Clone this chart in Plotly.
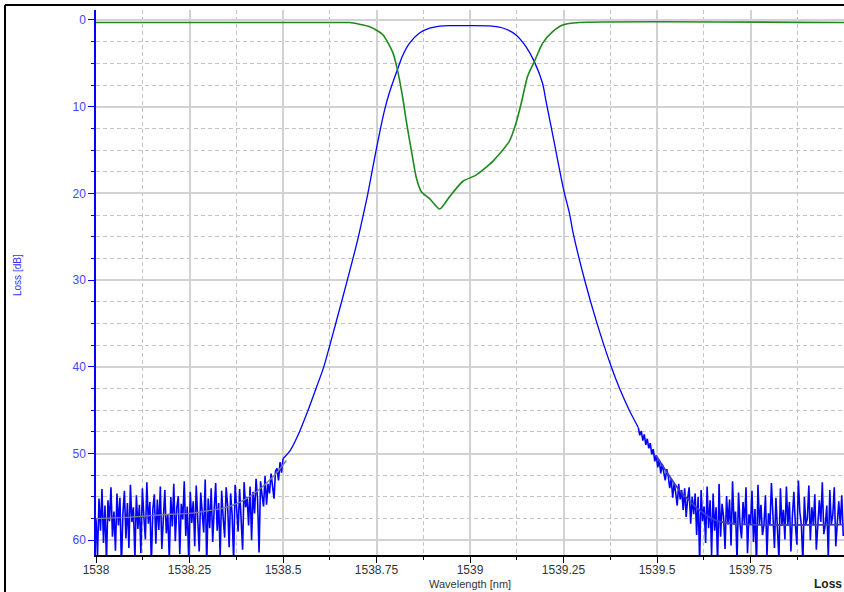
import plotly.graph_objects as go

# ---------------- data ----------------
# Blue trace: noisy floor on the left (sampled every 0.004 nm from 1538.000)
left_noise_start = 1538.0
left_noise_step = 0.004
left_noise_loss = [
    57.5, 61.8, 55.2, 58.9, 54.1, 60.3, 56.0, 62.5, 55.4, 57.8,
    53.9, 59.6, 56.7, 61.2, 54.6, 58.3, 55.1, 63.0, 56.9, 54.3,
    59.8, 55.7, 60.9, 53.6, 57.9, 56.2, 62.1, 54.8, 58.7, 55.9,
    61.5, 54.0, 57.3, 59.9, 53.3, 58.1, 55.6, 62.8, 56.4, 54.7,
    60.4, 55.3, 58.8, 53.8, 61.0, 56.6, 54.2, 59.2, 57.0, 62.3,
    55.0, 58.4, 53.5, 60.1, 56.3, 54.9, 61.6, 55.8, 57.6, 53.2,
    59.5, 56.1, 62.6, 54.4, 58.0, 55.5, 60.7, 53.7, 57.2, 61.3,
    54.5, 56.8, 59.1, 53.0, 62.9, 55.2, 58.6, 54.0, 60.2, 56.5,
    53.4, 58.9, 55.7, 61.9, 54.3, 57.4, 59.7, 53.9, 56.0, 60.8,
    54.6, 57.1, 62.4, 53.6, 55.8, 59.0, 54.1, 57.5, 61.1, 53.3,
    56.2, 55.0, 58.3, 53.8, 60.0, 54.4, 56.9, 52.9, 55.3, 61.4,
    53.2, 54.8, 56.1, 52.6, 55.9, 53.5, 54.6, 52.3, 53.8, 55.2,
    52.0, 51.7, 53.1, 51.0, 52.2, 50.6,
]

# Blue trace: smooth passband part
mid_wavelength = [
    1538.50, 1538.52, 1538.54, 1538.567, 1538.59, 1538.609, 1538.641, 1538.672, 1538.70,
    1538.711, 1538.727, 1538.749, 1538.772, 1538.785, 1538.807, 1538.82, 1538.838,
    1538.865, 1538.892, 1538.919, 1538.95, 1539.0, 1539.052, 1539.075, 1539.097,
    1539.123, 1539.15, 1539.172, 1539.194, 1539.203, 1539.226, 1539.25, 1539.266,
    1539.275, 1539.306, 1539.339, 1539.377, 1539.40, 1539.426, 1539.45,
]
mid_loss = [
    50.6, 49.6, 47.9, 45.0, 42.3, 40.0, 35.0, 30.0, 25.3,
    23.2, 20.0, 15.0, 10.3, 8.3, 5.6, 4.1, 2.7,
    1.5, 0.95, 0.7, 0.65, 0.65, 0.68, 0.8, 1.07,
    1.73, 3.1, 4.8, 7.3, 9.3, 14.3, 19.5, 22.3,
    24.4, 29.9, 34.9, 39.9, 42.5, 45.0, 47.0,
]

# Blue trace: noisy floor on the right (sampled every 0.004 nm from 1539.450)
right_noise_start = 1539.45
right_noise_step = 0.004
right_noise_loss = [
    47.0, 47.9, 47.4, 48.5, 47.8, 49.0, 48.3, 49.4, 48.8, 50.1,
    49.5, 50.9, 50.2, 51.6, 50.7, 52.3, 51.2, 52.0, 53.1, 51.8,
    52.6, 54.0, 52.9, 55.1, 53.4, 54.5, 56.0, 53.5, 55.3, 54.2,
    56.5, 54.0, 57.3, 55.2, 53.9, 58.1, 55.0, 57.0, 54.6, 59.4,
    55.0, 62.5, 54.2, 57.8, 56.1, 60.3, 53.8, 58.6, 55.4, 61.7,
    54.6, 58.9, 56.2, 62.8, 53.5, 59.6, 55.8, 57.3, 61.0, 54.9,
    58.2, 55.3, 60.6, 53.2, 58.2, 56.7, 62.4, 54.5, 58.2, 59.8,
    55.6, 58.2, 53.9, 61.5, 57.0, 58.2, 54.3, 60.2, 56.4, 62.9,
    53.6, 58.2, 55.9, 59.4, 58.2, 54.8, 61.8, 56.9, 58.2, 53.4,
    57.7, 60.9, 55.1, 58.2, 62.2, 54.0, 58.2, 56.5, 59.9, 53.8,
    58.2, 55.6, 61.3, 57.2, 54.4, 58.2, 60.5, 53.1, 56.8, 58.2,
    62.6, 55.0, 58.2, 57.5, 53.7, 60.0, 56.2, 58.2, 54.7, 61.1,
    58.2, 55.4, 57.9, 53.3, 59.3, 58.2, 56.0, 62.0, 54.2, 58.2,
    57.1, 53.9, 60.7, 58.2, 55.5, 58.2, 54.8, 59.5,
]

# Smoothed floor
floor_left_wavelength = [1538.0, 1538.1, 1538.2, 1538.25, 1538.3, 1538.34, 1538.385, 1538.429, 1538.473, 1538.509]
floor_left_loss = [57.5, 57.3, 57.0, 56.9, 56.6, 56.3, 55.6, 54.4, 52.7, 50.8]
floor_right_wavelength = [1539.497, 1539.53, 1539.559, 1539.59, 1539.613, 1539.657, 1539.70, 1539.75, 1540.0]
floor_right_loss = [50.2, 52.4, 54.2, 55.6, 56.5, 57.7, 58.05, 58.2, 58.2]

# Green trace (notch)
green_wavelength = [
    1538.0, 1538.66, 1538.678, 1538.732, 1538.767, 1538.794, 1538.807, 1538.821,
    1538.829, 1538.843, 1538.856, 1538.870, 1538.892, 1538.919, 1538.945, 1538.981,
    1539.016, 1539.061, 1539.105, 1539.123, 1539.137, 1539.154, 1539.172, 1539.194,
    1539.221, 1539.248, 1539.292, 1540.0,
]
green_loss = [
    0.3, 0.3, 0.3, 0.77, 1.7, 3.8, 5.96, 9.2,
    11.5, 15.0, 18.1, 19.8, 20.6, 21.8, 20.4, 18.6,
    17.9, 16.3, 14.0, 11.9, 9.6, 6.5, 4.8, 2.7,
    1.35, 0.58, 0.3, 0.3,
]

x_ticks = [1538, 1538.25, 1538.5, 1538.75, 1539, 1539.25, 1539.5, 1539.75]
x_tick_labels = ["1538", "1538.25", "1538.5", "1538.75", "1539", "1539.25", "1539.5", "1539.75"]
y_ticks = [0, 10, 20, 30, 40, 50, 60]
y_tick_labels = ["0", "10", "20", "30", "40", "50", "60"]

# ---------------- build ----------------
left_wl = [round(left_noise_start + i * left_noise_step, 4) for i in range(len(left_noise_loss))]
right_wl = [round(right_noise_start + i * right_noise_step, 4) for i in range(len(right_noise_loss))]

W, H = 844, 592
ML, MR, MT, MB = 96, 0, 10, 37
PW, PH = W - ML - MR, H - MT - MB

def px_x(px):
    return (px - ML) / PW

def px_y(py):
    return 1 - (py - MT) / PH

BLUE = "#0000ff"
fig = go.Figure()
fig.add_trace(go.Scatter(x=left_wl, y=left_noise_loss, mode="lines",
                         line=dict(color=BLUE, width=1.6), name="Loss"))
fig.add_trace(go.Scatter(x=mid_wavelength, y=mid_loss, mode="lines",
                         line=dict(color=BLUE, width=1.3, shape="spline", smoothing=0.8),
                         showlegend=False))
fig.add_trace(go.Scatter(x=right_wl, y=right_noise_loss, mode="lines",
                         line=dict(color=BLUE, width=1.6), showlegend=False))
fig.add_trace(go.Scatter(x=floor_left_wavelength, y=floor_left_loss, mode="lines",
                         line=dict(color="#7a7a9a", width=1.4, shape="spline"), showlegend=False))
fig.add_trace(go.Scatter(x=floor_right_wavelength, y=floor_right_loss, mode="lines",
                         line=dict(color="#3c3cc8", width=1.8, shape="spline"), showlegend=False))
fig.add_trace(go.Scatter(x=green_wavelength, y=green_loss, mode="lines",
                         line=dict(color="#1e8a1e", width=1.6, shape="spline", smoothing=0.6),
                         name="Loss 2"))

fig.update_layout(
    width=W, height=H,
    margin=dict(l=ML, r=MR, t=MT, b=MB),
    paper_bgcolor="white", plot_bgcolor="white",
    showlegend=False,
    font=dict(family="Liberation Sans, Arial, sans-serif", size=12, color="#333333"),
)
fig.update_xaxes(
    range=[1538, 1540],
    tickmode="array", tickvals=x_ticks, ticktext=x_tick_labels,
    showline=True, linecolor="#000000", linewidth=1.5,
    ticks="outside", ticklen=6, tickcolor="#000000", tickwidth=1.2,
    ticklabelstandoff=-3,
    tickfont=dict(size=12, color="#333333"),
    showgrid=True, gridcolor="#d2d2d2", gridwidth=2,
    minor=dict(dtick=0.125, showgrid=True, gridcolor="#c4c4c4", griddash="4px,3px",
               gridwidth=1, ticks="outside", ticklen=3, tickcolor="#000000"),
    zeroline=False,
)
fig.update_yaxes(
    range=[61.7, -1.15],
    tickmode="array", tickvals=y_ticks, ticktext=y_tick_labels,
    showline=True, linecolor="#0000ff", linewidth=1.5,
    ticks="outside", ticklen=6, tickcolor="#0000ff", tickwidth=1.2,
    tickfont=dict(size=12, color="#4444ff"),
    showgrid=True, gridcolor="#d2d2d2", gridwidth=2,
    minor=dict(dtick=2.5, showgrid=True, gridcolor="#c4c4c4", griddash="4px,3px",
               gridwidth=1, ticks="outside", ticklen=3, tickcolor="#0000ff"),
    zeroline=False,
)

# outer frame lines (top and left)
fig.add_shape(type="line", xref="paper", yref="paper",
              x0=px_x(5), x1=px_x(W + 5), y0=px_y(5), y1=px_y(5),
              line=dict(color="#000000", width=2))
fig.add_shape(type="line", xref="paper", yref="paper",
              x0=px_x(5), x1=px_x(5), y0=px_y(5), y1=px_y(H + 5),
              line=dict(color="#000000", width=2))

fig.add_annotation(text="Loss [dB]", xref="paper", yref="paper",
                   x=px_x(17), y=px_y(275), xanchor="center", yanchor="middle",
                   textangle=-90, showarrow=False,
                   font=dict(size=10, color="#3333ff"))
fig.add_annotation(text="Wavelength [nm]", xref="paper", yref="paper",
                   x=px_x(470), y=px_y(584), xanchor="center", yanchor="middle",
                   showarrow=False, font=dict(size=11, color="#333333"))
fig.add_annotation(text="<b>Loss</b>", xref="paper", yref="paper",
                   x=px_x(812), y=px_y(584), xanchor="left", yanchor="middle",
                   showarrow=False, font=dict(size=12, color="#222222"))

fig.write_html(
    "out.html",
    config={"displayModeBar": False},
    post_script="document.body.style.margin='0';document.body.style.overflow='hidden';",
)
